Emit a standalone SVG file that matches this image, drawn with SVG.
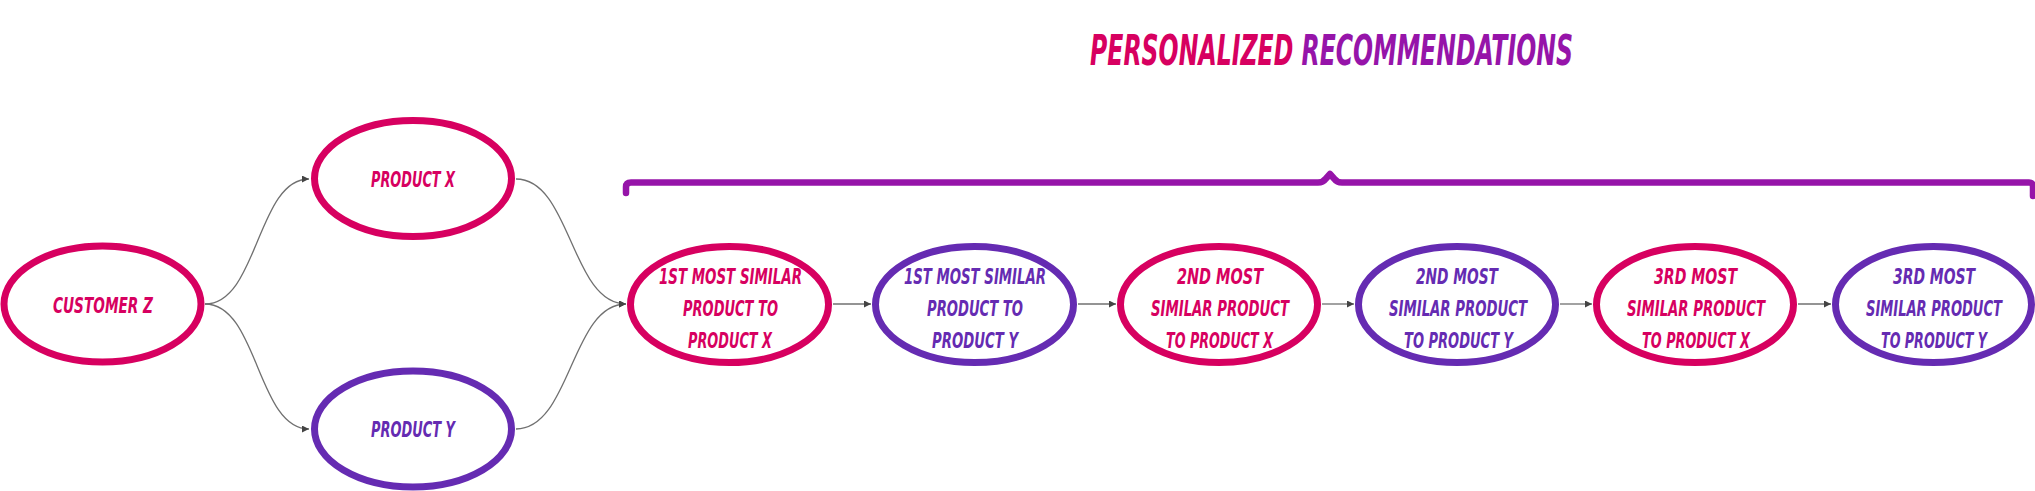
<svg xmlns="http://www.w3.org/2000/svg" width="2035" height="491" viewBox="0 0 2035 491">
<style>
.bg{fill:#ffffff}
.pink{fill:#ffffff;stroke:#d70060;stroke-width:7}
.purp{fill:#ffffff;stroke:#652bb2;stroke-width:7}
.t{font-family:"Liberation Sans Narrow","DejaVu Sans Condensed","Liberation Sans",sans-serif;font-weight:bold;font-style:italic;font-size:22px;text-anchor:middle}
.tp{fill:#d70060}
.tv{fill:#652bb2}
.title{font-family:"Liberation Sans Narrow","DejaVu Sans Condensed","Liberation Sans",sans-serif;font-weight:bold;font-style:italic;font-size:42px}
.conn{fill:none;stroke:#707070;stroke-width:1.3}
.brace{fill:none;stroke:#9614a9;stroke-width:6.5;stroke-linecap:round;stroke-linejoin:round}
</style>
<defs>
<marker id="arr" viewBox="0 0 10 10" refX="10" refY="5" markerWidth="7" markerHeight="7" markerUnits="userSpaceOnUse" orient="auto">
<path d="M0,0 L10,5 L0,10 z" fill="#444444"/>
</marker>
</defs>
<rect class="bg" x="0" y="0" width="2035" height="491"/>

<g id="title">
<text class="title" x="1090" y="65" textLength="483" lengthAdjust="spacingAndGlyphs"><tspan fill="#d70060">PERSONALIZED</tspan> <tspan fill="#9614a9">RECOMMENDATIONS</tspan></text>
</g>

<g id="brace">
<path class="brace" d="M626,193 L626,187 Q626,182.5 631,182.5 L1318,182.5 Q1323,182.5 1326,178.5 L1330,174 L1334,178.5 Q1337,182.5 1342,182.5 L2029,182.5 Q2033,182.5 2033,187 L2033,196"/>
</g>

<g id="connectors">
<path class="conn" d="M205,304 C258,304 257,179 309,179" marker-end="url(#arr)"/>
<path class="conn" d="M205,304 C258,304 257,429 309,429" marker-end="url(#arr)"/>
<path class="conn" d="M516,179 C571,179 571,304 626,304" marker-end="url(#arr)"/>
<path class="conn" d="M516,429 C571,429 571,304 626,304" marker-end="url(#arr)"/>
<path class="conn" d="M833,304 L871,304" marker-end="url(#arr)"/>
<path class="conn" d="M1078,304 L1116,304" marker-end="url(#arr)"/>
<path class="conn" d="M1322,304 L1354,304" marker-end="url(#arr)"/>
<path class="conn" d="M1560,304 L1592,304" marker-end="url(#arr)"/>
<path class="conn" d="M1798,304 L1831,304" marker-end="url(#arr)"/>
</g>

<g id="customer-z">
<ellipse class="pink" cx="102.5" cy="304" rx="98.5" ry="58"/>
<text class="t tp" x="103" y="313" textLength="100" lengthAdjust="spacingAndGlyphs">CUSTOMER Z</text>
</g>

<g id="product-x">
<ellipse class="pink" cx="413" cy="178.5" rx="98.5" ry="58"/>
<text class="t tp" x="413" y="187" textLength="84" lengthAdjust="spacingAndGlyphs">PRODUCT X</text>
</g>

<g id="product-y">
<ellipse class="purp" cx="413" cy="429" rx="98.5" ry="58"/>
<text class="t tv" x="413" y="437" textLength="84" lengthAdjust="spacingAndGlyphs">PRODUCT Y</text>
</g>

<g id="rec1">
<ellipse class="pink" cx="729.5" cy="304.5" rx="99" ry="58"/>
<text class="t tp" x="730.5" y="284" textLength="143" lengthAdjust="spacingAndGlyphs">1ST MOST SIMILAR</text>
<text class="t tp" x="730.5" y="316" textLength="95" lengthAdjust="spacingAndGlyphs">PRODUCT TO</text>
<text class="t tp" x="730" y="348" textLength="84" lengthAdjust="spacingAndGlyphs">PRODUCT X</text>
</g>

<g id="rec2">
<ellipse class="purp" cx="974.5" cy="304.5" rx="99" ry="58"/>
<text class="t tv" x="975" y="284" textLength="142" lengthAdjust="spacingAndGlyphs">1ST MOST SIMILAR</text>
<text class="t tv" x="975" y="316" textLength="96" lengthAdjust="spacingAndGlyphs">PRODUCT TO</text>
<text class="t tv" x="975" y="348" textLength="86" lengthAdjust="spacingAndGlyphs">PRODUCT Y</text>
</g>

<g id="rec3">
<ellipse class="pink" cx="1219" cy="304.5" rx="98.5" ry="58"/>
<text class="t tp" x="1220" y="284" textLength="86" lengthAdjust="spacingAndGlyphs">2ND MOST</text>
<text class="t tp" x="1220" y="316" textLength="138" lengthAdjust="spacingAndGlyphs">SIMILAR PRODUCT</text>
<text class="t tp" x="1219.5" y="348" textLength="107" lengthAdjust="spacingAndGlyphs">TO PRODUCT X</text>
</g>

<g id="rec4">
<ellipse class="purp" cx="1457" cy="304.5" rx="98.5" ry="58"/>
<text class="t tv" x="1457" y="284" textLength="82" lengthAdjust="spacingAndGlyphs">2ND MOST</text>
<text class="t tv" x="1458" y="316" textLength="138" lengthAdjust="spacingAndGlyphs">SIMILAR PRODUCT</text>
<text class="t tv" x="1458.5" y="348" textLength="109" lengthAdjust="spacingAndGlyphs">TO PRODUCT Y</text>
</g>

<g id="rec5">
<ellipse class="pink" cx="1695" cy="304.5" rx="98.5" ry="58"/>
<text class="t tp" x="1695.5" y="284" textLength="83" lengthAdjust="spacingAndGlyphs">3RD MOST</text>
<text class="t tp" x="1696" y="316" textLength="138" lengthAdjust="spacingAndGlyphs">SIMILAR PRODUCT</text>
<text class="t tp" x="1696" y="348" textLength="108" lengthAdjust="spacingAndGlyphs">TO PRODUCT X</text>
</g>

<g id="rec6">
<ellipse class="purp" cx="1933.5" cy="304.5" rx="98" ry="58"/>
<text class="t tv" x="1934" y="284" textLength="82" lengthAdjust="spacingAndGlyphs">3RD MOST</text>
<text class="t tv" x="1934" y="316" textLength="136" lengthAdjust="spacingAndGlyphs">SIMILAR PRODUCT</text>
<text class="t tv" x="1934" y="348" textLength="106" lengthAdjust="spacingAndGlyphs">TO PRODUCT Y</text>
</g>
</svg>
